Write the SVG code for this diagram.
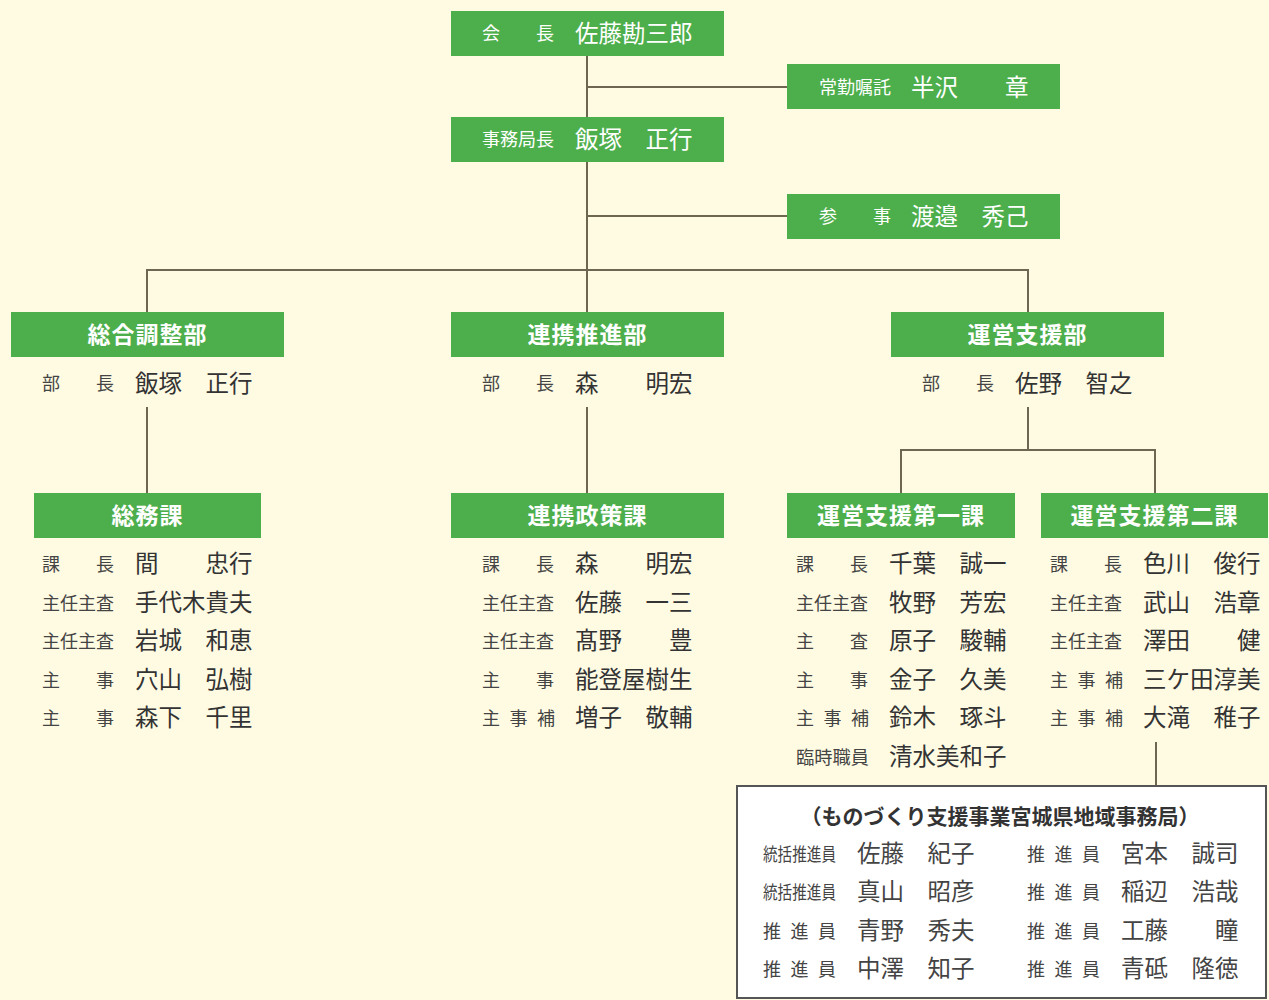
<svg xmlns="http://www.w3.org/2000/svg" width="1269" height="1000" viewBox="0 0 1269 1000">
<style>
.bg{fill:#FFFBE3}
.box{fill:#4DAE4C}
.ln{stroke:#6E6650;stroke-width:2;fill:none}
text{font-family:"Noto Sans CJK JP","Noto Sans CJK SC",sans-serif}
.t{fill:#fff;font-size:23px;font-weight:bold;text-anchor:middle;letter-spacing:1px}
.wl{fill:#fff;font-size:18px}
.wn{fill:#fff;font-size:23.5px}
.lb{fill:#444;font-size:18px}
.nm{fill:#333;font-size:23.5px}
.sp{letter-spacing:9.5px}
.bn{fill:#444;font-size:23.5px}
</style>
<rect class="bg" x="0" y="0" width="1269" height="1000"/>
<g id="connectors">
<path class="ln" d="M587 56V270M587 87H787M587 216H787"/>
<path class="ln" d="M147 312V270H1028V312M587 270V312"/>
<path class="ln" d="M147 407V493M587 407V493"/>
<path class="ln" d="M1028 407V450M901 493V450H1155V493"/>
<path class="ln" d="M1156 742V785"/>
</g>
<g id="kaicho">
<rect class="box" x="451" y="11" width="273" height="45"/>
<text class="wl" x="482" y="40">会　　長</text>
<text class="wn" x="575" y="42">佐藤勘三郎</text>
</g>
<g id="shokutaku">
<rect class="box" x="787" y="64" width="273" height="45"/>
<text class="wl" x="819" y="94" textLength="72" lengthAdjust="spacingAndGlyphs">常勤嘱託</text>
<text class="wn" x="911" y="96">半沢　　章</text>
</g>
<g id="jimukyokucho">
<rect class="box" x="451" y="117" width="273" height="45"/>
<text class="wl" x="482" y="146">事務局長</text>
<text class="wn" x="575" y="148">飯塚　正行</text>
</g>
<g id="sanji">
<rect class="box" x="787" y="194" width="273" height="45"/>
<text class="wl" x="819" y="223">参　　事</text>
<text class="wn" x="911" y="225">渡邉　秀己</text>
</g>
<g id="sogo">
<rect class="box" x="11" y="312" width="273" height="45"/>
<text class="t" x="147.5" y="343">総合調整部</text>
<text class="lb" x="42" y="390">部　　長</text>
<text class="nm" x="135" y="392">飯塚　正行</text>
</g>
<g id="renkei">
<rect class="box" x="451" y="312" width="273" height="45"/>
<text class="t" x="587.5" y="343">連携推進部</text>
<text class="lb" x="482" y="390">部　　長</text>
<text class="nm" x="575" y="392">森　　明宏</text>
</g>
<g id="unei">
<rect class="box" x="891" y="312" width="273" height="45"/>
<text class="t" x="1027.5" y="343">運営支援部</text>
<text class="lb" x="922" y="390">部　　長</text>
<text class="nm" x="1015" y="392">佐野　智之</text>
</g>
<g id="somu">
<rect class="box" x="34" y="493" width="227" height="45"/>
<text class="t" x="147.5" y="524">総務課</text>
<text class="lb" x="42" y="571">課　　長</text><text class="nm" x="135" y="572">間　　忠行</text>
<text class="lb" x="42" y="610">主任主査</text><text class="nm" x="135" y="611">手代木貴夫</text>
<text class="lb" x="42" y="648">主任主査</text><text class="nm" x="135" y="649">岩城　和恵</text>
<text class="lb" x="42" y="687">主　　事</text><text class="nm" x="135" y="688">穴山　弘樹</text>
<text class="lb" x="42" y="725">主　　事</text><text class="nm" x="135" y="726">森下　千里</text>
</g>
<g id="seisaku">
<rect class="box" x="451" y="493" width="273" height="45"/>
<text class="t" x="587.5" y="524">連携政策課</text>
<text class="lb" x="482" y="571">課　　長</text><text class="nm" x="575" y="572">森　　明宏</text>
<text class="lb" x="482" y="610">主任主査</text><text class="nm" x="575" y="611">佐藤　一三</text>
<text class="lb" x="482" y="648">主任主査</text><text class="nm" x="575" y="649">髙野　　豊</text>
<text class="lb" x="482" y="687">主　　事</text><text class="nm" x="575" y="688">能登屋樹生</text>
<text class="lb sp" x="482" y="725">主事補</text><text class="nm" x="575" y="726">増子　敬輔</text>
</g>
<g id="dai1">
<rect class="box" x="787" y="493" width="228" height="45"/>
<text class="t" x="901" y="524">運営支援第一課</text>
<text class="lb" x="796" y="571">課　　長</text><text class="nm" x="889" y="572">千葉　誠一</text>
<text class="lb" x="796" y="610">主任主査</text><text class="nm" x="889" y="611">牧野　芳宏</text>
<text class="lb" x="796" y="648">主　　査</text><text class="nm" x="889" y="649">原子　駿輔</text>
<text class="lb" x="796" y="687">主　　事</text><text class="nm" x="889" y="688">金子　久美</text>
<text class="lb sp" x="796" y="725">主事補</text><text class="nm" x="889" y="726">鈴木　琢斗</text>
<text class="lb" x="796" y="764" textLength="73" lengthAdjust="spacingAndGlyphs">臨時職員</text><text class="nm" x="889" y="765">清水美和子</text>
</g>
<g id="dai2">
<rect class="box" x="1041" y="493" width="227" height="45"/>
<text class="t" x="1154.5" y="524">運営支援第二課</text>
<text class="lb" x="1050" y="571">課　　長</text><text class="nm" x="1143" y="572">色川　俊行</text>
<text class="lb" x="1050" y="610">主任主査</text><text class="nm" x="1143" y="611">武山　浩章</text>
<text class="lb" x="1050" y="648">主任主査</text><text class="nm" x="1143" y="649">澤田　　健</text>
<text class="lb sp" x="1050" y="687">主事補</text><text class="nm" x="1143" y="688">三ケ田淳美</text>
<text class="lb sp" x="1050" y="725">主事補</text><text class="nm" x="1143" y="726">大滝　稚子</text>
</g>
<g id="monozukuri">
<rect x="737" y="786" width="529" height="212" fill="#FFFFFF" stroke="#555" stroke-width="2"/>
<text x="1000" y="824" fill="#333" font-size="21" font-weight="bold" text-anchor="middle">（ものづくり支援事業宮城県地域事務局）</text>
<text class="lb" x="763" y="861" font-size="16" textLength="73" lengthAdjust="spacingAndGlyphs">統括推進員</text><text class="bn" x="857" y="862">佐藤　紀子</text>
<text class="lb" x="763" y="899" font-size="16" textLength="73" lengthAdjust="spacingAndGlyphs">統括推進員</text><text class="bn" x="857" y="900">真山　昭彦</text>
<text class="lb sp" x="763" y="938">推進員</text><text class="bn" x="857" y="939">青野　秀夫</text>
<text class="lb sp" x="763" y="976">推進員</text><text class="bn" x="857" y="977">中澤　知子</text>
<text class="lb sp" x="1027" y="861">推進員</text><text class="bn" x="1121" y="862">宮本　誠司</text>
<text class="lb sp" x="1027" y="899">推進員</text><text class="bn" x="1121" y="900">稲辺　浩哉</text>
<text class="lb sp" x="1027" y="938">推進員</text><text class="bn" x="1121" y="939">工藤　　瞳</text>
<text class="lb sp" x="1027" y="976">推進員</text><text class="bn" x="1121" y="977">青砥　隆徳</text>
</g>
</svg>
